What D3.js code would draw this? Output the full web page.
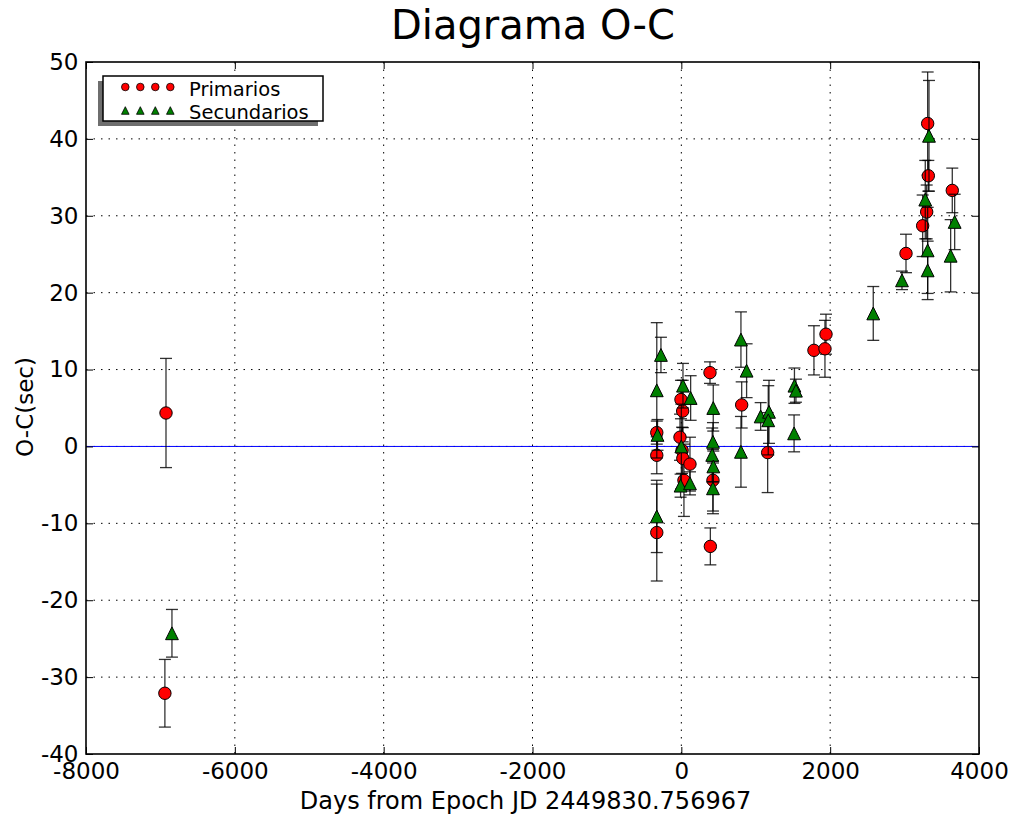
<!DOCTYPE html>
<html>
<head>
<meta charset="utf-8">
<script src="https://cdn.jsdelivr.net/npm/d3@7"></script>
<style>
  html, body { margin: 0; padding: 0; background: #fff; }
  svg { display: block; font-family: "DejaVu Sans", sans-serif; }
</style>
</head>
<body>
<svg id="chart" width="1015" height="819"></svg>
<script>
// O-C residuals (seconds) against days from epoch JD 2449830.756967
const primX   = [-6925, -6940, -330, -330, -330, -5, 18, -18, 10, 20, 116, 35, 385, 425, 390, 811, 1160, 1782, 1930, 1944, 3019, 3243, 3297, 3319, 3310, 3641];
const primY   = [4.35, -32.1, 1.8, -1.15, -11.2, 6.1, 4.6, 1.2, -0.5, -1.55, -2.3, -4.4, 9.6, -4.4, -13.0, 5.4, -0.8, 12.5, 12.7, 14.6, 25.1, 28.7, 30.5, 35.2, 42.0, 33.3];
const primErr = [7.1, 4.4, 1.5, 2.4, 6.3, 2.5, 4.0, 3.0, 3.0, 4.0, 3.5, 4.7, 1.4, 4.0, 2.4, 3.0, 5.2, 3.2, 3.7, 2.6, 2.5, 4.0, 3.5, 2.0, 6.7, 2.9];

const secX   = [-6845, -274, -330, -320, -330, 22, 125, 0, -10, 116, 429, 425, 415, 430, 425, 801, 877, 801, 1066, 1178, 1168, 1520, 1540, 1515, 2579, 2965, 3278, 3328, 3310, 3310, 3673, 3619];
const secY   = [-24.3, 11.9, 7.3, 1.5, -9.1, 7.9, 6.3, 0.0, -5.1, -4.8, 5.0, 0.6, -1.1, -2.6, -5.45, 13.9, 9.85, -0.7, 3.9, 4.5, 3.4, 7.9, 7.25, 1.7, 17.3, 21.6, 32.1, 40.4, 25.5, 22.9, 29.2, 24.8];
const secErr = [3.1, 2.3, 8.8, 2.0, 4.7, 2.9, 2.9, 5.5, 1.5, 1.5, 3.0, 2.5, 3.5, 2.0, 3.3, 3.6, 3.5, 4.6, 1.8, 4.1, 4.5, 2.3, 1.5, 2.4, 3.5, 1.2, 5.1, 7.2, 5.6, 3.8, 3.6, 4.7];

const xTicks = [-8000, -6000, -4000, -2000, 0, 2000, 4000];
const yTicks = [-40, -30, -20, -10, 0, 10, 20, 30, 40, 50];

const titleText = "Diagrama O-C";
const xLabel = "Days from Epoch JD 2449830.756967";
const yLabel = "O-C(sec)";
const legendLabels = ["Primarios", "Secundarios"];

const prim = primX.map((x, i) => ({ x, y: primY[i], e: primErr[i] }));
const sec  = secX.map((x, i) => ({ x, y: secY[i], e: secErr[i] }));

const L = 86, R = 979, T = 62, B = 754;
const svg = d3.select("#chart");

const x = d3.scaleLinear().domain([-8000, 4000]).range([L, R]);
const y = d3.scaleLinear().domain([-40, 50]).range([B, T]);

// dotted grid
const grid = svg.append("g").attr("stroke", "#000").attr("stroke-width", 1)
  .attr("stroke-dasharray", "1.5,6");
grid.selectAll("line.gx").data(xTicks.slice(1, -1)).join("line")
  .attr("x1", d => x(d)).attr("x2", d => x(d)).attr("y1", T).attr("y2", B);
grid.selectAll("line.gy").data(yTicks.slice(1, -1)).join("line")
  .attr("x1", L).attr("x2", R).attr("y1", d => y(d)).attr("y2", d => y(d));

// zero line
svg.append("line").attr("x1", L).attr("x2", R).attr("y1", y(0)).attr("y2", y(0))
  .attr("stroke", "#0000ff").attr("stroke-width", 1);

// error bars + markers
function errorBars(data) {
  const g = svg.append("g").attr("stroke", "#000").attr("stroke-width", 1.3)
    .attr("stroke-opacity", 0.8);
  const cap = 6;
  data.forEach(d => {
    const xx = x(d.x), y0 = y(d.y - d.e), y1 = y(d.y + d.e);
    g.append("line").attr("x1", xx).attr("x2", xx).attr("y1", y0).attr("y2", y1);
    g.append("line").attr("x1", xx - cap).attr("x2", xx + cap).attr("y1", y0).attr("y2", y0);
    g.append("line").attr("x1", xx - cap).attr("x2", xx + cap).attr("y1", y1).attr("y2", y1);
  });
}
function tri(cx, cy, s) {
  return `M${cx},${cy - s}L${cx - s},${cy + s}L${cx + s},${cy + s}Z`;
}

errorBars(prim);
svg.append("g").selectAll("circle").data(prim).join("circle")
  .attr("cx", d => x(d.x)).attr("cy", d => y(d.y)).attr("r", 6.2)
  .attr("fill", "#ff0000").attr("stroke", "#000").attr("stroke-width", 1);

errorBars(sec);
svg.append("g").selectAll("path").data(sec).join("path")
  .attr("d", d => tri(x(d.x), y(d.y), 6.4))
  .attr("fill", "#008000").attr("stroke", "#000").attr("stroke-width", 1);

// axes: inward ticks on all sides
const fontSize = 23;
const axB = svg.append("g").attr("transform", `translate(0,${B})`)
  .call(d3.axisBottom(x).tickValues(xTicks).tickSize(-7).tickPadding(8.5).tickFormat(d3.format("d")));
const axL = svg.append("g").attr("transform", `translate(${L},0)`)
  .call(d3.axisLeft(y).tickValues(yTicks).tickSize(-7).tickPadding(7.5).tickFormat(d3.format("d")));
const axT = svg.append("g").attr("transform", `translate(0,${T})`)
  .call(d3.axisTop(x).tickValues(xTicks).tickSize(-7).tickFormat(""));
const axR = svg.append("g").attr("transform", `translate(${R},0)`)
  .call(d3.axisRight(y).tickValues(yTicks).tickSize(-7).tickFormat(""));
[axB, axL, axT, axR].forEach(a => {
  a.select(".domain").remove();
  a.selectAll("line").attr("stroke", "#000").attr("stroke-width", 1);
  a.selectAll("text").attr("font-family", "DejaVu Sans").attr("font-size", fontSize).attr("fill", "#000");
});
axB.selectAll("text").text(d => String(d).replace("\u2212", "-"));
axL.selectAll("text").text(d => String(d).replace("\u2212", "-"));

// frame
svg.append("rect").attr("x", L).attr("y", T).attr("width", R - L).attr("height", B - T)
  .attr("fill", "none").attr("stroke", "#000").attr("stroke-width", 1.6);

// titles
svg.append("text").attr("x", 533).attr("y", 39).attr("text-anchor", "middle")
  .attr("font-size", 40).text(titleText);
svg.append("text").attr("x", 525.5).attr("y", 808.5).attr("text-anchor", "middle")
  .attr("font-size", 24).text(xLabel);
svg.append("text").attr("transform", "translate(33,407) rotate(-90)")
  .attr("text-anchor", "middle").attr("font-size", 23).text(yLabel);

// legend
const lg = svg.append("g");
lg.append("rect").attr("x", 98).attr("y", 81).attr("width", 220).attr("height", 45)
  .attr("fill", "#6e6e6e");
lg.append("rect").attr("x", 103).attr("y", 76).attr("width", 220).attr("height", 45)
  .attr("fill", "#fff").attr("stroke", "#000").attr("stroke-width", 1.5);
const lgX = [125.3, 140.3, 155.3, 170.3];
lg.selectAll("circle").data(lgX).join("circle")
  .attr("cx", d => d).attr("cy", 87).attr("r", 3.8)
  .attr("fill", "#ff0000").attr("stroke", "#000").attr("stroke-width", 0.8);
lg.selectAll("path").data(lgX).join("path")
  .attr("d", d => tri(d, 110.5, 3.8))
  .attr("fill", "#008000").attr("stroke", "#000").attr("stroke-width", 0.8);
lg.selectAll("text").data(legendLabels).join("text")
  .attr("x", 189).attr("y", (d, i) => i === 0 ? 95.5 : 119)
  .attr("font-size", 19.5).text(d => d);
</script>
</body>
</html>
